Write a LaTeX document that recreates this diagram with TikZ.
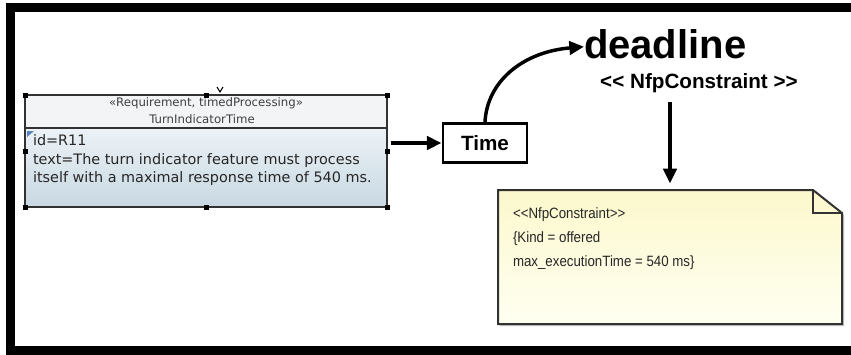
\documentclass[tikz,border=0pt]{standalone}
\usepackage{fontspec}
\setmainfont{Liberation Sans}
\newfontfamily\uifont{DejaVu Sans}
\newfontfamily\notefont[FakeStretch=0.89]{Liberation Sans}
\usetikzlibrary{arrows.meta,calc}

\definecolor{hdrfill}{RGB}{242,244,246}
\definecolor{bodytop}{RGB}{236,242,246}
\definecolor{bodybot}{RGB}{200,216,226}
\definecolor{notetop}{RGB}{252,248,204}
\definecolor{notebot}{RGB}{255,255,242}
\definecolor{edge}{RGB}{50,50,50}
\definecolor{marker}{RGB}{90,130,190}

\tikzset{
  conn/.style={line width=2.6pt, -{Triangle[length=11pt,width=10pt]}},
  handle/.style={fill=black},
  plainbox/.style={inner sep=0pt, outer sep=0pt},
}

\begin{document}
\begin{tikzpicture}[x=0.75pt,y=-0.75pt]
\useasboundingbox (0,0) rectangle (851,354);
\fill[white] (0,0) rectangle (851,354);

% outer frame (runs past the right and bottom edges)
\draw[line width=6.75pt] (10.5,7.5) rectangle (900,350.5);

% ---- requirement block ----
\path node[plainbox, minimum width=271.5pt, minimum height=84pt] (req) at (206,151) {};
\coordinate (divL) at ($(req.north west)+(0,33)$);
\coordinate (divR) at ($(req.north east)+(0,33)$);
\fill[hdrfill] (req.north west) rectangle (divR);
\shade[top color=bodytop, bottom color=bodybot] (divL) rectangle (req.south east);
\draw[edge, line width=1.5pt] (req.north west) rectangle (req.south east);
\draw[edge, line width=1.2pt] (divL) -- (divR);

\node[font=\uifont\fontsize{8.8}{10}\selectfont, text=black!75] (stereo) at (206,103)
  {«Requirement, timedProcessing»};
\node[font=\uifont\fontsize{8.8}{10}\selectfont, text=black!75] (reqname) at (202,119)
  {TurnIndicatorTime};
\node[plainbox, anchor=north west, align=left,
      font=\uifont\fontsize{10.8}{13.8}\selectfont, text=black!85] (reqbody) at (33,135)
  {id=R11\\text=The turn indicator feature must process\\itself with a maximal response time of 540 ms.};

% selection marker and handles
\fill[marker] (27,131) -- (34,131) -- (27,137) -- cycle;
\draw[line width=0.8pt] (217,87) -- (220,92) -- (223,87);
\foreach \a in {north west,north,north east,east,south east,south,south west,west}
  \fill[handle] ($(req.\a)+(-2.5,-2.5)$) rectangle ++(5,5);

% ---- Time box ----
\node[draw, line width=2.2pt, minimum width=63pt, minimum height=29.25pt, inner sep=0pt,
      font=\bfseries\fontsize{15.5}{18}\selectfont] (time) at (485,143) {Time};

% ---- deadline label ----
\node[plainbox, anchor=base west, font=\bfseries\fontsize{30}{36}\selectfont] (deadline)
  at (584,58) {deadline};
\node[anchor=base, inner sep=3pt, font=\bfseries\fontsize{15.5}{18}\selectfont] (nfp)
  at (699,88) {<{}< NfpConstraint >{}>};

% ---- constraint note ----
\path node[plainbox, minimum width=258pt, minimum height=100.5pt] (note) at (670,257) {};
\fill[black!22]
  ($(note.north west)+(2,2)$) -- ($(note.north east)+(-27,2)$) -- ($(note.north east)+(2,25)$)
  -- ($(note.south east)+(2,2)$) -- ($(note.south west)+(2,2)$) -- cycle;
\shade[top color=notetop, bottom color=notebot]
  (note.north west) -- ($(note.north east)+(-29,0)$) -- ($(note.north east)+(0,23)$)
  -- (note.south east) -- (note.south west) -- cycle;
\draw[edge, line width=1.5pt, line join=miter]
  (note.north west) -- ($(note.north east)+(-29,0)$) -- ($(note.north east)+(0,23)$)
  -- (note.south east) -- (note.south west) -- cycle;
\draw[edge, line width=1.5pt]
  ($(note.north east)+(-29,0)$) -- ($(note.north east)+(-29,23)$) -- ($(note.north east)+(0,23)$);
\node[plainbox, anchor=north west, align=left,
      font=\notefont\fontsize{11.2}{17.7}\selectfont, text=black!85] (notetext) at (513,208)
  {<{}<NfpConstraint>{}>\\\{Kind = offered\\max\_executionTime = 540 ms\}};

% ---- connectors ----
\draw[conn, shorten <=3pt] (time.west -| req.east) -- (time.west);
\draw[conn] (time.north) .. controls (487,82) and (522,52) .. ($(deadline.west)+(0,3)$);
\draw[conn, shorten <=4pt, shorten >=5pt] (nfp.south -| note.north) -- (note.north);
\end{tikzpicture}
\end{document}
